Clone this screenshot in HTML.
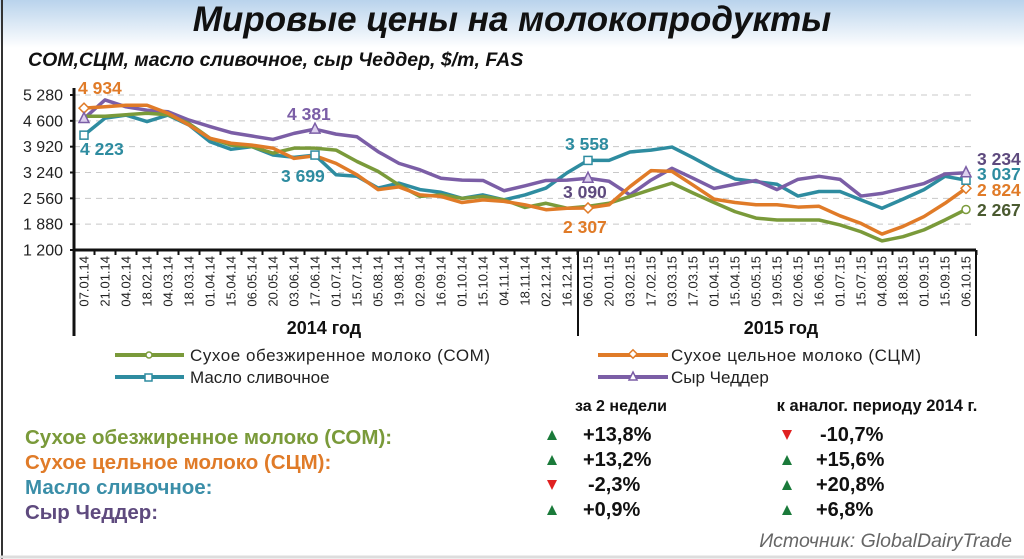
<!DOCTYPE html>
<html><head><meta charset="utf-8"><style>
body{margin:0;width:1024px;height:559px;overflow:hidden;background:#fff;font-family:"Liberation Sans",sans-serif}
svg{display:block}
</style></head><body>
<svg width="1024" height="559" viewBox="0 0 1024 559">
<defs><linearGradient id="hg" x1="0" y1="0" x2="0" y2="1"><stop offset="0" stop-color="#b9d3ec"/><stop offset="1" stop-color="#ffffff"/></linearGradient></defs>
<rect x="0" y="0" width="1024" height="48" fill="url(#hg)"/>
<line x1="2" y1="0" x2="2" y2="559" stroke="#333" stroke-width="2"/>
<text x="512" y="31" text-anchor="middle" font-size="35" font-weight="bold" font-style="italic" fill="#111">Мировые цены на молокопродукты</text>
<text x="28" y="66" font-size="19.5" font-weight="bold" font-style="italic" fill="#111">СОМ,СЦМ, масло сливочное, сыр Чеддер, $/m, FAS</text>
<g id="grid"></g><g id="axes"></g><g id="series"></g><g id="labels"></g>
<g font-size="17" fill="#222">
<line x1="115" y1="355" x2="184" y2="355" stroke="#7a9a3a" stroke-width="4"/><circle cx="149" cy="355" r="3" fill="#fff" stroke="#7a9a3a" stroke-width="1.5"/>
<text x="190" y="361" textLength="300">Сухое обезжиренное молоко (СОМ)</text>
<line x1="598" y1="355" x2="668" y2="355" stroke="#e07b28" stroke-width="4"/><rect x="630" y="351" width="6" height="6" transform="rotate(45 633 354)" fill="#fff" stroke="#e07b28" stroke-width="1.5"/>
<text x="671" y="361" textLength="250">Сухое цельное молоко (СЦМ)</text>
<line x1="115" y1="377" x2="184" y2="377" stroke="#2e8ca0" stroke-width="4"/><rect x="145" y="374" width="7" height="7" fill="#fff" stroke="#2e8ca0" stroke-width="1.5"/>
<text x="190" y="383">Масло сливочное</text>
<line x1="598" y1="377" x2="668" y2="377" stroke="#7b5ea6" stroke-width="4"/><polygon points="633,372 637,380 629,380" fill="#fff" stroke="#7b5ea6" stroke-width="1.5"/>
<text x="671" y="383">Сыр Чеддер</text>
</g>
<g font-weight="bold">
<text x="621" y="411" text-anchor="middle" font-size="16" fill="#111">за 2 недели</text>
<text x="877" y="411" text-anchor="middle" font-size="16.5" fill="#111">к аналог. периоду 2014 г.</text>
<text x="25" y="444" font-size="20.5" fill="#7a9a3a">Сухое обезжиренное молоко (СОМ):</text>
<text x="25" y="469" font-size="20.5" fill="#e07b28">Сухое цельное молоко (СЦМ):</text>
<text x="25" y="494" font-size="20.5" fill="#3a8ea8">Масло сливочное:</text>
<text x="25" y="519" font-size="20.5" fill="#5e4a7e">Сыр Чеддер:</text>
<g font-size="20" fill="#111">
<polygon points="552,430 547,440 557,440" fill="#1a7a3a"/><text x="583" y="441">+13,8%</text>
<polygon points="787,440 782,430 792,430" fill="#e02020"/><text x="820" y="441">-10,7%</text>
<polygon points="552,455 547,465 557,465" fill="#1a7a3a"/><text x="583" y="466">+13,2%</text>
<polygon points="787,455 782,465 792,465" fill="#1a7a3a"/><text x="816" y="466">+15,6%</text>
<polygon points="552,490 547,480 557,480" fill="#e02020"/><text x="588" y="491">-2,3%</text>
<polygon points="787,480 782,490 792,490" fill="#1a7a3a"/><text x="816" y="491">+20,8%</text>
<polygon points="552,505 547,515 557,515" fill="#1a7a3a"/><text x="583" y="516">+0,9%</text>
<polygon points="787,505 782,515 792,515" fill="#1a7a3a"/><text x="816" y="516">+6,8%</text>
</g></g>
<text x="1012" y="547" text-anchor="end" font-size="19.5" font-style="italic" fill="#666">Источник: GlobalDairyTrade</text>
<line x1="0" y1="557" x2="1024" y2="557" stroke="#ddd" stroke-width="3"/>
</svg>
<script>
const dates=["07.01.14","21.01.14","04.02.14","18.02.14","04.03.14","18.03.14","01.04.14","15.04.14","06.05.14","20.05.14","03.06.14","17.06.14","01.07.14","15.07.14","05.08.14","19.08.14","02.09.14","16.09.14","01.10.14","15.10.14","04.11.14","18.11.14","02.12.14","16.12.14","06.01.15","20.01.15","03.02.15","17.02.15","03.03.15","17.03.15","01.04.15","15.04.15","05.05.15","19.05.15","02.06.15","16.06.15","01.07.15","15.07.15","04.08.15","18.08.15","01.09.15","15.09.15","06.10.15"];
const somValues=[4720,4720,4760,4800,4760,4530,4140,3960,3920,3750,3880,3880,3830,3530,3270,2910,2610,2650,2560,2610,2520,2320,2430,2300,2350,2430,2610,2790,2960,2700,2450,2210,2040,1990,1990,1990,1860,1680,1440,1550,1730,1990,2267];
const scmValues=[4934,4970,5010,5010,4800,4490,4140,4010,3960,3880,3610,3680,3480,3180,2790,2860,2650,2610,2450,2520,2480,2390,2260,2300,2307,2390,2870,3290,3270,2910,2540,2450,2390,2390,2330,2350,2100,1900,1620,1820,2080,2430,2824];
const butterValues=[4223,4670,4750,4580,4750,4490,4050,3850,3920,3700,3640,3699,3180,3140,2830,2960,2790,2720,2560,2650,2520,2650,2830,3230,3558,3560,3780,3830,3910,3630,3330,3070,3000,2930,2620,2740,2740,2520,2300,2540,2790,3140,3037];
const cheddarValues=[4660,5150,4970,4880,4840,4620,4450,4290,4200,4110,4270,4381,4250,4180,3790,3480,3310,3090,3040,3030,2760,2890,3030,3040,3090,3010,2650,3040,3350,3090,2820,2930,3030,2790,3060,3140,3060,2620,2690,2820,2950,3200,3234];
const yTicks=[1200,1880,2560,3240,3920,4600,5280];
const yTickLabels=["1 200","1 880","2 560","3 240","3 920","4 600","5 280"];
const NS="http://www.w3.org/2000/svg";
const x=i=>84+i*21.0;
const y=v=>250-(v-1200)/(5280-1200)*155;
function mk(tag,attrs,parent,txt){const e=document.createElementNS(NS,tag);for(const k in attrs)e.setAttribute(k,attrs[k]);if(txt!==undefined)e.textContent=txt;document.getElementById(parent).appendChild(e);return e;}
yTicks.forEach((t,k)=>{
 if(k>0){const g=mk('line',{x1:74,x2:976,y1:y(t),y2:y(t),stroke:'#c8c8c8','stroke-dasharray':'6 5','stroke-width':1},'grid');
 
 }
 const l=mk('text',{x:63,y:y(t)+5.5,'text-anchor':'end','font-size':16,fill:'#222'},'axes',yTickLabels[k]);
 
 
 mk('line',{x1:70,x2:74,y1:y(t),y2:y(t),stroke:'#111','stroke-width':2},'axes');
});
mk('line',{x1:74,x2:74,y1:88,y2:336,stroke:'#111','stroke-width':3},'axes');
mk('line',{x1:74,x2:976,y1:250,y2:250,stroke:'#111','stroke-width':3},'axes');
mk('line',{x1:578,x2:578,y1:250,y2:336,stroke:'#111','stroke-width':2},'axes');
mk('line',{x1:976,x2:976,y1:250,y2:336,stroke:'#111','stroke-width':2},'axes');
dates.forEach((d,i)=>{
 mk('line',{x1:x(i)+10.5,x2:x(i)+10.5,y1:250,y2:255,stroke:'#111','stroke-width':2},'axes');
 const t=mk('text',{x:0,y:0,'font-size':13,fill:'#222','text-anchor':'end',transform:`translate(${x(i)+4.5},256) rotate(-90)`},'axes',d);
 
 
});
const y1=mk('text',{x:324,y:334,'text-anchor':'middle','font-size':18,'font-weight':'bold',fill:'#111'},'axes','2014 год');


const y2=mk('text',{x:781,y:334,'text-anchor':'middle','font-size':18,'font-weight':'bold',fill:'#111'},'axes','2015 год');


const series=[['butter',butterValues,'#2e8ca0'],['cheddar',cheddarValues,'#7b5ea6'],['som',somValues,'#7a9a3a'],['scm',scmValues,'#e07b28']];
series.forEach(([n,vals,c])=>{
 const p=mk('polyline',{points:vals.map((v,i)=>x(i)+','+y(v)).join(' '),fill:'none',stroke:c,'stroke-width':3.5,'stroke-linejoin':'round'},'series');
 
 
});
function marker(n,i,vals,c){const cx=x(i),cy=y(vals[i]);let m;
 if(n==='som')m=mk('circle',{cx,cy,r:4,fill:'#fff',stroke:c,'stroke-width':1.5},'series');
 else if(n==='scm')m=mk('rect',{x:cx-3.5,y:cy-3.5,width:7,height:7,transform:`rotate(45 ${cx} ${cy})`,fill:'#fff',stroke:c,'stroke-width':1.5},'series');
 else if(n==='butter')m=mk('rect',{x:cx-4,y:cy-4,width:8,height:8,fill:'#fff',stroke:c,'stroke-width':1.5},'series');
 else m=mk('polygon',{points:`${cx},${cy-6} ${cx+5},${cy+4} ${cx-5},${cy+4}`,fill:'#ddd0ee',stroke:c,'stroke-width':1.5},'series');
 
 }
[['scm',[0,24,42],scmValues,'#e07b28'],['butter',[0,11,24,42],butterValues,'#2e8ca0'],['cheddar',[0,11,24,42],cheddarValues,'#7b5ea6'],['som',[42],somValues,'#7a9a3a']].forEach(([n,idx,v,c])=>idx.forEach(i=>marker(n,i,v,c)));
const fmt=v=>String(v).replace(/\B(?=(\d{3})+$)/,' ');
const lbls=[[scmValues,0,'#e07b28',78,94],[butterValues,0,'#2e8ca0',80,155],[cheddarValues,11,'#7b5ea6',287,120],[butterValues,11,'#2e8ca0',281,182],[butterValues,24,'#2e8ca0',565,150],[cheddarValues,24,'#5e4a7e',563,198],[scmValues,24,'#e07b28',563,233],[cheddarValues,42,'#5e4a7e',977,165],[butterValues,42,'#2e8ca0',977,180],[scmValues,42,'#e07b28',977,196],[somValues,42,'#4a5a30',977,216]];
lbls.forEach(([v,i,c,lx,ly])=>{const t=mk('text',{x:lx,y:ly,'font-size':17.5,'font-weight':'bold',fill:c},'labels',fmt(v[i]));
 
 });
</script>
</body></html>
